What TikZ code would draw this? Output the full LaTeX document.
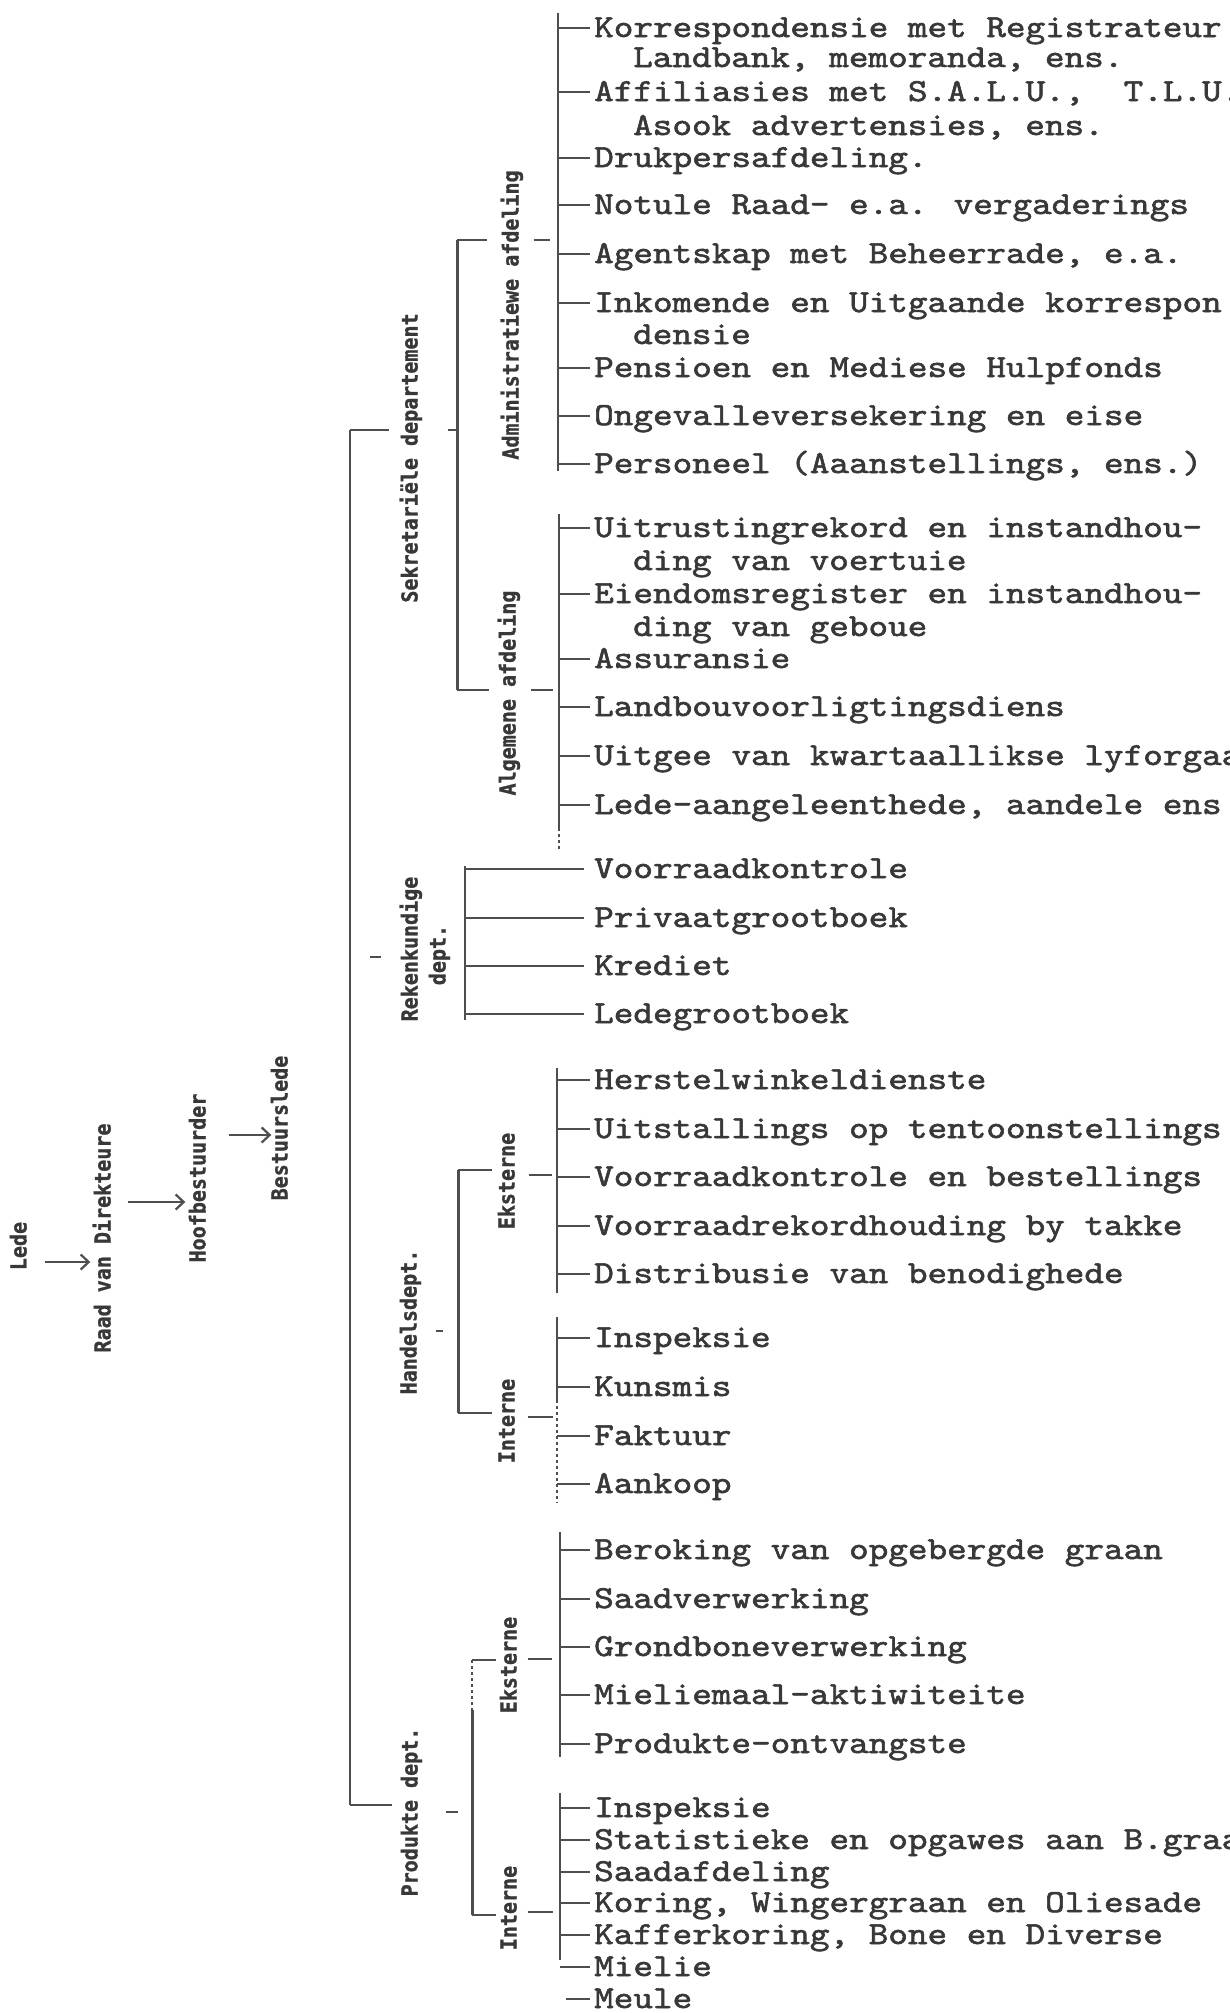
\documentclass[tikz,border=0pt]{standalone}
\usepackage{fontspec}
\usetikzlibrary{arrows.meta,calc}
\newfontfamily\twfam[FakeBold=1.6]{lmmono10-regular.otf}
\newfontfamily\labfam[BoldFeatures={FakeBold=1.2}]{DejaVu Sans Mono}
\newcommand\tws[1]{\scalebox{1}[0.86]{#1}}
\newcommand\lbs[1]{\scalebox{0.91}[1]{#1}}
\definecolor{ink}{HTML}{383838}
\definecolor{ln}{HTML}{4E4E4E}
\begin{document}
\begin{tikzpicture}[x=1pt,y=-1pt,
  tw/.style={font=\twfam\fontsize{37.35}{37.35}\selectfont, text=ink, inner sep=0pt, anchor=west, text height=20pt, text depth=2pt},
  lab/.style={font=\labfam\bfseries\fontsize{22}{26}\selectfont, text=ink, inner sep=0pt, rotate=90, text height=16pt, text depth=5pt},
  trunk/.style={draw=ln, line width=2.6pt},
  ibr/.style={draw=ln, line width=2pt},
  tick/.style={draw=ln, line width=1.8pt, shorten >=4pt},
  arr/.style={draw=ln, line width=2.2pt, -{Straight Barb[length=8pt,width=15pt]}}
]
\useasboundingbox (0,0) rectangle (1230,2013);
\clip (0,0) rectangle (1230,2013);
\fill[white] (0,0) rectangle (1230,2013);

% ---------- left chain ----------
\node[lab] (lede) at (21,1246) {\lbs{Lede}};
\node[lab] (raad) at (105,1238) {\lbs{Raad van Direkteure}};
\node[lab] (hoof) at (200,1178) {\lbs{Hoofbestuurder}};
\node[lab] (best) at (282,1128) {\lbs{Bestuurslede}};
\draw[arr, shorten <=13pt, shorten >=4pt] (lede.south |- 0,1262) -- (raad.north |- 0,1262);
\draw[arr, shorten <=12pt, shorten >=4pt] (raad.south |- 0,1202) -- (hoof.north |- 0,1202);
\draw[arr, shorten <=18pt, shorten >=0pt] (hoof.south |- 0,1135) -- (best.north |- 0,1135);

% ---------- department labels ----------
\node[lab] (sek) at (412,458) {\lbs{Sekretariële departement}};
\node[lab] (adm) at (513,315) {\lbs{Administratiewe afdeling}};
\node[lab] (alg) at (510,693) {\lbs{Algemene afdeling}};
\node[lab] (rek) at (412,949) {\lbs{Rekenkundige}};
\node[lab] (rekd) at (440,955) {\lbs{dept.}};
\node[lab] (hand) at (411,1322) {\lbs{Handelsdept.}};
\node[lab] (hekst) at (509,1181) {\lbs{Eksterne}};
\node[lab] (hint) at (509,1421) {\lbs{Interne}};
\node[lab] (prod) at (412,1812) {\lbs{Produkte dept.}};
\node[lab] (pekst) at (511,1665) {\lbs{Eksterne}};
\node[lab] (pint) at (511,1908) {\lbs{Interne}};

% ---------- main bracket ----------
\coordinate (mainT) at (350,430);
\coordinate (mainB) at (350,1805);
\draw[trunk] (mainT) -- (mainB);
\draw[tick, shorten >=12pt] (mainT) -- (sek.north |- mainT);
\draw[tick, shorten <=20pt, shorten >=20pt] (mainT |- 0,957) -- (rek.north |- 0,957);
\draw[tick, shorten >=9pt] (mainB) -- (prod.north |- mainB);

% ---------- Sekretariele sub-bracket ----------
\coordinate (sekT) at (457,240);
\coordinate (sekB) at (457,690);
\draw[trunk, line width=3pt] (sekT) -- (sekB);
\draw[tick, shorten <=25pt, shorten >=0pt] (sek.south |- mainT) -- (sekT |- mainT);
\draw[tick, shorten >=15pt] (sekT) -- (adm.north |- sekT);
\draw[tick, shorten >=10pt] (sekB) -- (alg.north |- sekB);

% ---------- Administratiewe afdeling ----------
\coordinate (admT) at (558,13);
\coordinate (admB) at (558,471);
\draw[ibr] (admT) -- (admB);
\draw[tick, shorten <=10pt, shorten >=8pt] (adm.south |- sekT) -- (admT |- sekT);
\node[tw] (a1) at (594,28) {\tws{Korrespondensie met Registrateur}};
\node[tw] (a1b) at (633,58) {\tws{Landbank, memoranda, ens.}};
\node[tw] (a2) at (594,92) {\tws{Affiliasies met S.A.L.U.,\ \ T.L.U.}};
\node[tw] (a2b) at (633,126) {\tws{Asook advertensies, ens.}};
\node[tw] (a3) at (594,158) {\tws{Drukpersafdeling.}};
\node[tw] (a4) at (594,205) {\tws{Notule Raad- e.a. vergaderings}};
\node[tw] (a5) at (594,254) {\tws{Agentskap met Beheerrade, e.a.}};
\node[tw] (a6) at (594,303) {\tws{Inkomende en Uitgaande korrespon}};
\node[tw] (a6b) at (633,335) {\tws{densie}};
\node[tw] (a7) at (594,368) {\tws{Pensioen en Mediese Hulpfonds}};
\node[tw] (a8) at (594,416) {\tws{Ongevalleversekering en eise}};
\node[tw] (a9) at (594,464) {\tws{Personeel (Aaanstellings, ens.)}};
\foreach \n in {a1,a2,a3,a4,a5,a6,a7,a8,a9} \draw[tick] (admT |- \n.west) -- (\n.west);

% ---------- Algemene afdeling ----------
\coordinate (algT) at (559,514);
\coordinate (algB) at (559,828);
\draw[ibr] (algT) -- (algB);
\draw[ibr, dashed] (algB) -- ++(0,22);
\draw[tick, shorten <=10pt, shorten >=6pt] (alg.south |- sekB) -- (algT |- sekB);
\node[tw] (g1) at (594,528) {\tws{Uitrustingrekord en instandhou-}};
\node[tw] (g1b) at (633,561) {\tws{ding van voertuie}};
\node[tw] (g2) at (594,594) {\tws{Eiendomsregister en instandhou-}};
\node[tw] (g2b) at (633,627) {\tws{ding van geboue}};
\node[tw] (g3) at (594,659) {\tws{Assuransie}};
\node[tw] (g4) at (594,707) {\tws{Landbouvoorligtingsdiens}};
\node[tw] (g5) at (594,756) {\tws{Uitgee van kwartaallikse lyforgaan}};
\node[tw] (g6) at (594,805) {\tws{Lede-aangeleenthede, aandele ens}};
\foreach \n in {g1,g2,g3,g4,g5,g6} \draw[tick] (algT |- \n.west) -- (\n.west);

% ---------- Rekenkundige dept. ----------
\coordinate (rekT) at (465,866);
\coordinate (rekB) at (465,1020);
\draw[ibr] (rekT) -- (rekB);
\node[tw] (r1) at (594,869) {\tws{Voorraadkontrole}};
\node[tw] (r2) at (594,918) {\tws{Privaatgrootboek}};
\node[tw] (r3) at (594,966) {\tws{Krediet}};
\node[tw] (r4) at (594,1014) {\tws{Ledegrootboek}};
\foreach \n in {r1,r2,r3,r4} \draw[tick, shorten >=10pt] (rekT |- \n.west) -- (\n.west);

% ---------- Handelsdept. ----------
\coordinate (hT) at (458,1170);
\coordinate (hB) at (458,1413);
\draw[trunk, line width=3pt] (hT) -- (hB);
\draw[tick, shorten <=14pt, shorten >=15pt] (hand.south |- 0,1331) -- (hT |- 0,1331);
\draw[tick, shorten >=6pt] (hT) -- (hekst.north |- hT);
\draw[tick, shorten >=6pt] (hB) -- (hint.north |- hB);

\coordinate (heT) at (557,1068);
\coordinate (heB) at (557,1293);
\draw[ibr] (heT) -- (heB);
\draw[tick, shorten <=9pt, shorten >=5pt] (hekst.south |- 0,1175) -- (heT |- 0,1175);
\node[tw] (h1) at (594,1080) {\tws{Herstelwinkeldienste}};
\node[tw] (h2) at (594,1129) {\tws{Uitstallings op tentoonstellings}};
\node[tw] (h3) at (594,1177) {\tws{Voorraadkontrole en bestellings}};
\node[tw] (h4) at (594,1226) {\tws{Voorraadrekordhouding by takke}};
\node[tw] (h5) at (594,1274) {\tws{Distribusie van benodighede}};
\foreach \n in {h1,h2,h3,h4,h5} \draw[tick] (heT |- \n.west) -- (\n.west);

\coordinate (hiT) at (557,1317);
\coordinate (hiM) at (557,1400);
\coordinate (hiB) at (557,1503);
\draw[ibr] (hiT) -- (hiM);
\draw[ibr, dashed, line width=1.6pt] (hiM) -- (hiB);
\draw[tick, shorten <=8pt, shorten >=4pt] (hint.south |- 0,1417) -- (hiT |- 0,1417);
\node[tw] (i1) at (594,1338) {\tws{Inspeksie}};
\node[tw] (i2) at (594,1387) {\tws{Kunsmis}};
\node[tw] (i3) at (594,1436) {\tws{Faktuur}};
\node[tw] (i4) at (594,1484) {\tws{Aankoop}};
\foreach \n in {i1,i2,i3,i4} \draw[tick] (hiT |- \n.west) -- (\n.west);

% ---------- Produkte dept. ----------
\coordinate (pT) at (472,1660);
\coordinate (pM) at (472,1710);
\coordinate (pB) at (472,1915);
\draw[trunk, dashed, line width=2pt] (pT) -- (pM);
\draw[trunk, line width=3pt] (pM) -- (pB);
\draw[tick, shorten <=23pt, shorten >=14pt] (prod.south |- 0,1812) -- (pT |- 0,1812);
\draw[tick, shorten >=4pt] (pT) -- (pekst.north |- pT);
\draw[tick, shorten >=4pt] (pB) -- (pint.north |- pB);

\coordinate (peT) at (560,1532);
\coordinate (peB) at (560,1757);
\draw[ibr] (peT) -- (peB);
\draw[tick, shorten <=6pt, shorten >=8pt] (pekst.south |- 0,1659) -- (peT |- 0,1659);
\node[tw] (p1) at (594,1550) {\tws{Beroking van opgebergde graan}};
\node[tw] (p2) at (594,1599) {\tws{Saadverwerking}};
\node[tw] (p3) at (594,1647) {\tws{Grondboneverwerking}};
\node[tw] (p4) at (594,1695) {\tws{Mieliemaal-aktiwiteite}};
\node[tw] (p5) at (594,1744) {\tws{Produkte-ontvangste}};
\foreach \n in {p1,p2,p3,p4,p5} \draw[tick] (peT |- \n.west) -- (\n.west);

\coordinate (piT) at (560,1793);
\coordinate (piB) at (560,1960);
\draw[ibr] (piT) -- (piB);
\draw[tick, shorten <=6pt, shorten >=7pt] (pint.south |- 0,1912) -- (piT |- 0,1912);
\node[tw] (q1) at (594,1808) {\tws{Inspeksie}};
\node[tw] (q2) at (594,1840) {\tws{Statistieke en opgawes aan B.graad}};
\node[tw] (q3) at (594,1872) {\tws{Saadafdeling}};
\node[tw] (q4) at (594,1903) {\tws{Koring, Wingergraan en Oliesade}};
\node[tw] (q5) at (594,1935) {\tws{Kafferkoring, Bone en Diverse}};
\node[tw] (q6) at (594,1967) {\tws{Mielie}};
\node[tw] (q7) at (594,1999) {\tws{Meule}};
\foreach \n in {q1,q2,q3,q4,q5,q6} \draw[tick] (piT |- \n.west) -- (\n.west);
\draw[tick] (q7.west) ++(-28,0) coordinate (q7s) -- (q7.west);
\end{tikzpicture}
\end{document}
